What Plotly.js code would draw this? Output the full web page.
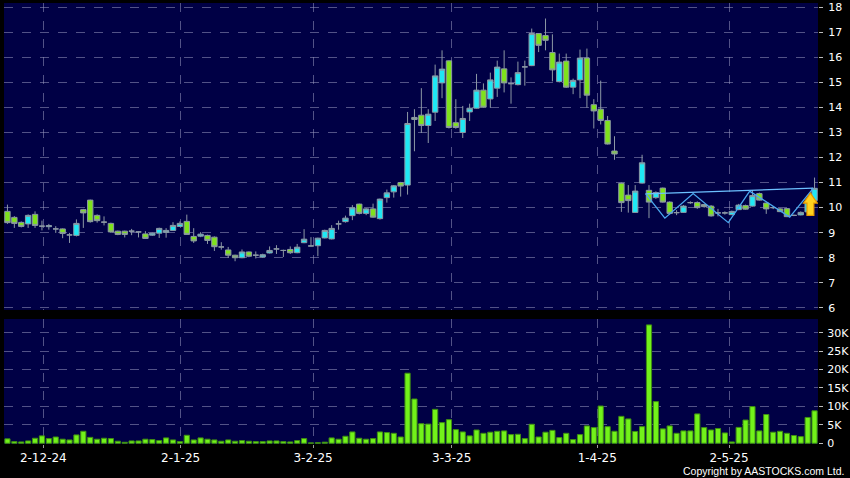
<!DOCTYPE html>
<html>
<head>
<meta charset="utf-8">
<script src="https://cdn.plot.ly/plotly-3.0.1.min.js"></script>
<style>
  html, body { margin: 0; padding: 0; background: #000; }
  #chart { width: 850px; height: 478px; }
</style>
</head>
<body>
<div id="chart"></div>
<script>
// ---- Data (daily candles, Nov 2024 - May 2025) ----
const openP = [
  9.85, 9.61, 9.41, 9.35, 9.73, 9.26, 9.24, 9.15, 9.15, 8.91,
  8.89, 9.92, 10.30, 9.69, 9.42, 9.37, 9.06, 9.06, 9.06, 9.03,
  8.95, 8.90, 8.98, 9.01, 9.09, 9.25, 9.45, 8.85, 8.86, 8.89,
  8.82, 8.43, 8.31, 8.10, 8.00, 8.23, 8.10, 8.03, 8.19, 8.35,
  8.29, 8.33, 8.20, 8.60, 8.47, 8.48, 8.79, 8.75, 9.35, 9.44,
  9.68, 10.14, 9.77, 9.95, 9.56, 10.40, 10.63, 11.00, 10.90, 13.60,
  13.69, 13.28, 13.81, 14.98, 15.86, 13.39, 13.00, 13.82, 13.97, 14.69,
  14.34, 14.77, 15.54, 14.95, 14.91, 15.62, 15.67, 16.95, 16.87, 16.19,
  15.03, 15.85, 14.81, 15.10, 15.97, 14.11, 13.93, 13.48, 12.26, 10.97,
  10.50, 9.81, 10.98, 10.69, 10.40, 10.78, 10.22, 9.80, 9.81, 10.20,
  10.20, 10.12, 10.06, 9.79, 9.79, 9.72, 9.92, 10.08, 10.06, 10.56,
  10.18, 10.00, 9.95, 9.96, 9.69, 9.71, 9.83, 10.28
];
const highP = [
  10.12, 9.66, 9.45, 9.73, 9.85, 9.48, 9.35, 9.26, 9.17, 8.99,
  9.53, 9.95, 10.32, 9.73, 9.65, 9.40, 9.08, 9.08, 9.15, 9.06,
  9.06, 9.00, 9.20, 9.18, 9.42, 9.45, 9.72, 9.18, 9.02, 8.92,
  8.85, 8.62, 8.43, 8.12, 8.33, 8.25, 8.25, 8.16, 8.45, 8.50,
  8.32, 8.45, 8.55, 9.14, 8.82, 8.80, 9.12, 9.30, 9.48, 9.68,
  10.10, 10.16, 9.98, 10.16, 10.36, 10.72, 10.90, 11.03, 13.82, 13.93,
  14.77, 13.93, 15.71, 16.28, 15.88, 14.33, 14.06, 14.15, 15.34, 14.96,
  15.39, 15.87, 16.28, 15.20, 15.83, 15.87, 17.15, 16.97, 17.55, 16.92,
  16.15, 16.15, 15.15, 16.31, 16.35, 14.33, 15.07, 13.66, 12.85, 11.00,
  10.90, 10.90, 12.11, 10.90, 10.65, 10.80, 10.25, 9.90, 10.10, 10.25,
  10.25, 10.15, 10.10, 9.95, 9.85, 9.88, 10.15, 10.12, 10.70, 10.60,
  10.20, 10.06, 9.98, 9.98, 9.72, 9.85, 10.30, 11.20
];
const lowP = [
  9.35, 9.19, 9.21, 9.19, 9.19, 9.09, 9.12, 8.99, 8.78, 8.59,
  8.85, 9.19, 9.40, 9.40, 9.29, 8.99, 8.90, 8.81, 8.90, 8.81,
  8.75, 8.87, 8.79, 8.80, 9.07, 9.23, 8.92, 8.59, 8.82, 8.55,
  8.27, 8.32, 7.99, 7.86, 7.98, 8.02, 7.97, 8.00, 8.17, 8.15,
  8.03, 8.15, 8.18, 8.58, 8.45, 8.06, 8.77, 8.73, 9.12, 9.40,
  9.50, 9.73, 9.70, 9.60, 9.52, 10.20, 10.40, 10.44, 10.52, 12.25,
  12.98, 12.58, 13.46, 14.37, 13.16, 13.15, 12.78, 13.46, 13.95, 13.99,
  13.99, 14.42, 14.60, 14.15, 14.88, 14.87, 15.65, 16.21, 16.28, 15.04,
  15.00, 14.78, 14.53, 14.37, 13.99, 13.16, 13.32, 12.52, 11.91, 9.83,
  9.80, 9.79, 10.96, 9.58, 10.35, 10.20, 9.72, 9.70, 9.79, 10.15,
  9.95, 10.00, 9.64, 9.65, 9.72, 9.70, 9.90, 9.92, 10.04, 10.28,
  9.75, 9.94, 9.82, 9.62, 9.66, 9.69, 9.80, 10.26
];
const closeP = [
  9.40, 9.37, 9.25, 9.69, 9.29, 9.26, 9.28, 9.15, 8.97, 8.91,
  9.37, 9.79, 9.44, 9.48, 9.42, 9.03, 8.93, 8.93, 9.06, 9.03,
  8.77, 8.98, 9.17, 9.09, 9.29, 9.37, 8.93, 8.67, 8.94, 8.69,
  8.44, 8.43, 8.10, 8.00, 8.23, 8.06, 8.10, 8.12, 8.29, 8.35,
  8.29, 8.20, 8.42, 8.74, 8.47, 8.78, 9.09, 9.17, 9.35, 9.58,
  9.99, 9.77, 9.95, 9.62, 10.34, 10.59, 10.87, 10.86, 13.36, 13.52,
  13.28, 13.73, 15.26, 15.53, 13.20, 13.20, 13.56, 13.97, 14.69, 14.01,
  15.10, 15.61, 14.98, 14.95, 15.39, 15.62, 16.95, 16.48, 16.68, 15.50,
  15.81, 14.81, 15.08, 15.97, 14.49, 13.86, 13.48, 12.54, 12.14, 10.20,
  10.28, 10.66, 11.79, 10.22, 10.60, 10.22, 9.77, 9.80, 10.06, 10.20,
  10.00, 10.04, 9.67, 9.79, 9.79, 9.85, 10.10, 9.94, 10.48, 10.30,
  9.95, 10.00, 9.84, 9.64, 9.69, 9.81, 10.23, 10.77
];
// volume in thousands of shares
const volumeK = [
  1.2, 0.45, 0.36, 0.63, 1.36, 2.0, 1.27, 1.7, 1.1, 0.9,
  2.26, 3.25, 1.6, 1.1, 1.36, 1.27, 0.55, 0.27, 0.63, 0.63,
  1.1, 1.0, 0.72, 1.45, 0.9, 0.45, 2.17, 0.9, 1.45, 1.1,
  0.9, 0.55, 0.9, 0.55, 0.72, 0.55, 0.45, 0.45, 0.63, 0.63,
  0.45, 0.36, 0.72, 1.27, 0.1, 0.15, 0.3, 1.45, 1.1, 1.9,
  3.07, 1.36, 1.1, 1.27, 3.07, 2.9, 2.7, 1.7, 19.0, 12.0,
  5.3, 5.2, 9.2, 5.6, 6.4, 3.7, 3.07, 2.0, 3.6, 2.7,
  3.0, 3.25, 3.35, 2.35, 2.44, 1.27, 5.15, 1.7, 3.0, 3.5,
  1.54, 2.7, 1.0, 2.35, 4.7, 4.25, 10.1, 4.5, 3.25, 7.3,
  6.6, 3.2, 4.5, 32.1, 11.3, 3.9, 4.7, 2.7, 3.35, 3.35,
  7.96, 4.25, 3.6, 4.0, 2.8, 0.36, 4.3, 6.3, 9.95, 3.35,
  7.8, 3.0, 3.25, 2.7, 2.1, 1.8, 7.0, 8.8
];
// date tick labels and the candle positions they sit at
const tickLabels = ['2-12-24', '2-1-25', '3-2-25', '3-3-25', '1-4-25', '2-5-25'];
const tickIndex  = [5.2, 25.1, 44.3, 64.4, 85.5, 104.6];
// drawn chart pattern (zig-zag) and its upper trend line: [candle index, price]
const zigzagIdx   = [92.5, 95.3, 99.4, 104.5, 107.6, 113.4, 116.8];
const zigzagPrice = [10.56, 9.58, 10.56, 9.40, 10.66, 9.62, 10.77];
const trendIdx    = [92.5, 116.8];
const trendPrice  = [10.55, 10.78];

const priceTicks = [6,7,8,9,10,11,12,13,14,15,16,17,18];
const volTicks = [0,5,10,15,20,25,30];
const volTickText = ['0','5K','10K','15K','20K','25K','30K'];

// ---- Build ----
const idx = closeP.map((_, i) => i);
const n = idx.length;
const FONT = 'DejaVu Sans, Verdana, sans-serif';
const gridCol = 'rgba(150,150,190,0.55)';

const candles = {
  type: 'candlestick', x: idx, open: openP, high: highP, low: lowP, close: closeP,
  xaxis: 'x', yaxis: 'y',
  increasing: { fillcolor: '#1fe8f4', line: { color: '#8c98a4', width: 1 } },
  decreasing: { fillcolor: '#7fe21c', line: { color: '#8c98a4', width: 1 } },
  whiskerwidth: 0, hoverinfo: 'skip'
};
const vol = {
  type: 'bar', x: idx, y: volumeK, xaxis: 'x', yaxis: 'y2',
  marker: { color: '#72f21a', line: { color: '#3f8f12', width: 1 } },
  hoverinfo: 'skip'
};
const zig = {
  type: 'scatter', mode: 'lines', x: zigzagIdx, y: zigzagPrice, xaxis: 'x', yaxis: 'y',
  line: { color: '#4aa8f0', width: 1.3 }, hoverinfo: 'skip'
};
const trend = {
  type: 'scatter', mode: 'lines', x: trendIdx, y: trendPrice, xaxis: 'x', yaxis: 'y',
  line: { color: '#6cc0ff', width: 1.3 }, hoverinfo: 'skip'
};

// yellow up-arrow marker near the last candle
const ax = n - 1.6, aw = 1.0, sw = 0.5;
const aTop = 10.58, aNeck = 10.18, aBot = 9.69;
const arrowPath = `M ${ax} ${aTop} L ${ax + aw} ${aNeck} L ${ax + sw} ${aNeck} L ${ax + sw} ${aBot} ` +
                  `L ${ax - sw} ${aBot} L ${ax - sw} ${aNeck} L ${ax - aw} ${aNeck} Z`;

const layout = {
  width: 850, height: 478,
  paper_bgcolor: '#000000', plot_bgcolor: '#000045',
  margin: { l: 4, r: 32, t: 3, b: 34 },
  showlegend: false, bargap: 0.25, boxgap: 0.22, boxgroupgap: 0,
  font: { family: FONT, color: '#ffffff', size: 12 },
  xaxis: {
    range: [-0.5, n - 0.5], anchor: 'y2', rangeslider: { visible: false },
    tickvals: tickIndex, ticktext: tickLabels,
    showgrid: true, gridcolor: gridCol, griddash: 'dash', gridwidth: 1,
    ticks: 'outside', ticklen: 3, tickcolor: '#9a9a9a',
    tickfont: { family: FONT, size: 12, color: '#ffffff' },
    zeroline: false, showline: false, fixedrange: true
  },
  yaxis: {
    domain: [0.304, 1], range: [5.915, 18.17], side: 'right',
    tickvals: priceTicks, ticktext: priceTicks.map(String),
    showgrid: true, gridcolor: gridCol, griddash: 'dash', gridwidth: 1,
    ticks: 'outside', ticklen: 4, tickcolor: '#bbbbbb', ticklabelstandoff: 3,
    tickfont: { family: FONT, size: 11, color: '#ffffff' },
    zeroline: false, showline: false, fixedrange: true
  },
  yaxis2: {
    domain: [0, 0.2834], range: [-0.2, 33.7], side: 'right',
    tickvals: volTicks, ticktext: volTickText,
    showgrid: true, gridcolor: gridCol, griddash: 'dash', gridwidth: 1,
    ticks: 'outside', ticklen: 4, tickcolor: '#bbbbbb', ticklabelstandoff: 2,
    tickfont: { family: FONT, size: 11, color: '#ffffff' },
    zeroline: false, showline: false, fixedrange: true
  },
  shapes: [{
    type: 'path', xref: 'x', yref: 'y', path: arrowPath,
    fillcolor: '#ffd21e', line: { color: '#e89a00', width: 1.2 }
  }],
  annotations: [{
    text: 'Copyright by AASTOCKS.com Ltd.', xref: 'paper', yref: 'paper',
    x: 1, y: 0, xanchor: 'right', yanchor: 'top', xshift: 28, yshift: -19,
    showarrow: false, font: { family: 'Liberation Sans, Arial, sans-serif', size: 10.5, color: '#ffffff' }
  }]
};

Plotly.newPlot('chart', [vol, candles, trend, zig], layout, { staticPlot: true, displayModeBar: false });
</script>
</body>
</html>
